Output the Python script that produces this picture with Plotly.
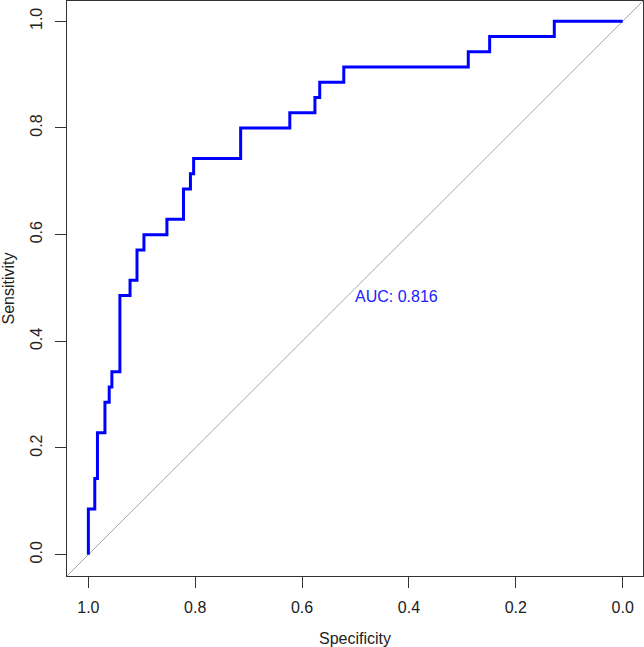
import plotly.graph_objects as go

# ROC curve step points (specificity, sensitivity)
specificity = [1.0, 0.988, 0.983, 0.969, 0.961, 0.956, 0.941, 0.922, 0.909, 0.896, 0.853,
               0.822, 0.809, 0.803, 0.715, 0.623, 0.576, 0.567, 0.522, 0.289, 0.249, 0.128, 0.0]
sensitivity = [0.0, 0.0857, 0.1429, 0.2286, 0.2857, 0.3143, 0.3429, 0.4857, 0.5143, 0.5714, 0.6,
               0.6286, 0.6857, 0.7143, 0.7429, 0.8, 0.8286, 0.8571, 0.8857, 0.9143, 0.9429, 0.9714, 1.0]
auc_label = "AUC: 0.816"
tick_vals = [0.0, 0.2, 0.4, 0.6, 0.8, 1.0]
tick_text = ["0.0", "0.2", "0.4", "0.6", "0.8", "1.0"]
diag_x = [1.2, -0.2]
diag_y = [-0.2, 1.2]

FONT = "Liberation Sans, Arial, sans-serif"

fig = go.Figure()
fig.add_trace(go.Scatter(x=diag_x, y=diag_y, mode="lines",
                         line=dict(color="#aaaaaa", width=1), hoverinfo="skip", showlegend=False))
fig.add_trace(go.Scatter(x=specificity, y=sensitivity, mode="lines", line_shape="vh",
                         line=dict(color="#0000ff", width=3), showlegend=False))
fig.add_annotation(x=0.505, y=0.484, text=auc_label, showarrow=False, xanchor="left", yanchor="middle",
                   font=dict(family=FONT, size=16, color="#2020ff"))

axis_common = dict(showgrid=False, zeroline=False, showline=True, mirror=True, linecolor="#333333",
                   linewidth=1.3, ticks="outside", ticklen=11, tickwidth=1.3, tickcolor="#333333",
                   tickvals=tick_vals, ticktext=tick_text,
                   tickfont=dict(family=FONT, size=16, color="#222222"))

fig.update_layout(
    width=644, height=647,
    margin=dict(l=67, r=1, t=1, b=71),
    paper_bgcolor="white", plot_bgcolor="white",
    xaxis=dict(range=[1.04, -0.038], title=dict(text="Specificity", standoff=17,
               font=dict(family=FONT, size=16, color="#222222")), ticklabelstandoff=6, **axis_common),
    yaxis=dict(range=[-0.04, 1.038], tickangle=-90, title=dict(text="Sensitivity", standoff=10,
               font=dict(family=FONT, size=16, color="#222222")), ticklabelstandoff=6, **axis_common),
)
fig.update_xaxes(automargin=False)
fig.update_yaxes(automargin=False)
fig.write_html("out.html", config={"displayModeBar": False},
               post_script="document.body.style.margin='0';document.body.style.overflow='hidden';")
